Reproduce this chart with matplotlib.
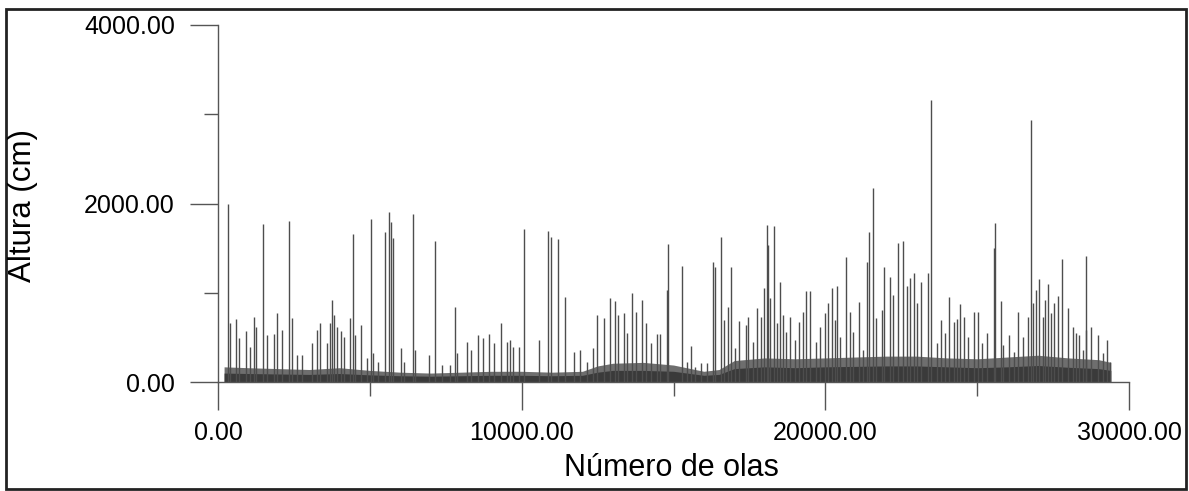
import matplotlib
matplotlib.use("Agg")
import matplotlib.pyplot as plt
from matplotlib.patches import Rectangle
from matplotlib.ticker import MultipleLocator, FormatStrFormatter

plt.rcParams['font.family'] = ['Liberation Sans', 'DejaVu Sans']

# picos individuales (numero de ola, altura en cm)
spike_x = [320, 385, 600, 690, 910, 1040, 1175, 1260, 1470, 1620, 1830, 1940,
           2110, 2330, 2435, 2610, 2780, 3100, 3250, 3360, 3580, 3690, 3740,
           3810, 3920, 4050, 4140, 4340, 4430, 4510, 4710, 4910, 5030, 5090,
           5270, 5490, 5640, 5690, 5750, 6010, 6120, 6410, 6500, 6960, 7145,
           7375, 7640, 7790, 7880, 8190, 8320, 8570, 8740, 8935, 9090, 9330,
           9505, 9615, 9725, 9910, 10090, 10570, 10880, 10965, 11195, 11425,
           11710, 11920, 12140, 12360, 12490, 12700, 12900, 13070, 13180,
           13360, 13470, 13620, 13750, 13950, 14080, 14260, 14445, 14565,
           14785, 14830, 15290, 15430, 15565, 15700, 15890, 16090, 16290,
           16375, 16560, 16660, 16800, 16900, 17020, 17165, 17375, 17450,
           17630, 17750, 17890, 17990, 18090, 18120, 18175, 18300, 18395,
           18505, 18615, 18700, 18835, 19000, 19120, 19250, 19350, 19490,
           19690, 19820, 19990, 20075, 20205, 20325, 20390, 20480, 20670,
           20810, 20920, 21120, 21250, 21360, 21445, 21580, 21670, 21850,
           21930, 22130, 22215, 22400, 22545, 22675, 22785, 22930, 23030,
           23160, 23370, 23490, 23665, 23820, 23940, 24070, 24235, 24320,
           24420, 24560, 24710, 24880, 25040, 25150, 25310, 25550, 25595,
           25770, 25860, 26055, 26220, 26350, 26495, 26660, 26770, 26825,
           26935, 27045, 27155, 27240, 27330, 27420, 27540, 27670, 27790,
           27995, 28140, 28250, 28360, 28470, 28580, 28600, 28745, 28985,
           29130, 29285, 29370]
spike_h = [1994, 657, 702, 493, 575, 395, 731, 619, 1766, 526, 538, 769,
           582, 1807, 713, 302, 302, 433, 582, 657, 433, 657, 918,
           750, 619, 575, 508, 713, 1658, 526, 638, 265, 1822, 321,
           227, 1684, 1900, 1796, 1610, 377, 227, 1878, 358, 302, 1579,
           190, 190, 837, 321, 451, 358, 526, 489, 538, 433, 664,
           451, 470, 395, 395, 1709, 470, 1695, 1628, 1602, 955,
           340, 358, 227, 377, 750, 713, 944, 911, 750,
           769, 545, 993, 788, 918, 657, 433, 538, 538,
           1030, 1542, 1302, 227, 407, 170, 208, 208, 1348,
           1284, 1628, 694, 837, 1284, 377, 687, 638, 731,
           451, 825, 731, 1049, 1759, 1534, 937, 1750, 657,
           1123, 750, 563, 731, 470, 675, 788, 1023, 1023,
           451, 619, 769, 888, 1049, 694, 1075, 508, 1403,
           788, 563, 899, 358, 1340, 1676, 2169, 713, 806,
           1284, 1179, 974, 1560, 1583, 1075, 1161, 1217, 881,
           1117, 1224, 3160, 433, 694, 545, 949, 675, 702,
           874, 725, 508, 788, 788, 433, 553, 1497, 1777,
           911, 414, 526, 340, 788, 508, 731, 2934, 881,
           1030, 1150, 731, 918, 1098, 769, 888, 963, 1374,
           825, 619, 545, 526, 358, 1411, 582, 619, 526,
           321, 470, 227]

# envolvente de la banda densa de olas pequenas (borde exterior y nucleo oscuro)
band_x = [200, 1000, 2000, 3000, 4000, 5000, 6000, 7000, 8000, 9000, 10000,
          11000, 12000, 12500, 13000, 14000, 15000, 16000, 16500, 17000,
          18000, 19000, 20000, 21000, 22000, 23000, 24000, 25000, 26000,
          27000, 28000, 29000, 29400]
band_top = [170, 160, 150, 140, 160, 130, 110, 100, 110, 120, 120,
            110, 120, 180, 210, 220, 190, 120, 140, 240,
            270, 260, 270, 280, 290, 290, 270, 260, 280,
            300, 270, 250, 220]
band_core = [100, 95, 90, 85, 95, 80, 70, 65, 70, 75, 75,
             70, 75, 110, 130, 130, 120, 75, 85, 150,
             170, 160, 170, 175, 180, 180, 170, 160, 170,
             185, 165, 150, 130]

fig = plt.figure(figsize=(11.89, 4.91), dpi=100)
ax = fig.add_axes([218/1189, 109/491, 911/1189, 357/491])

ax.fill_between(band_x, 0, band_top, color='#6e6e6e', lw=0)
ax.fill_between(band_x, 0, band_core, color='#3a3a3a', lw=0)
ax.vlines(spike_x, 0, spike_h, color='#4d4d4d', lw=1.0)

ax.set_xlim(0, 30000)
ax.set_ylim(0, 4000)
for s in ['top', 'right']:
    ax.spines[s].set_visible(False)
for s in ['left', 'bottom']:
    ax.spines[s].set_color('#555555')
    ax.spines[s].set_linewidth(1.0)

ax.xaxis.set_major_locator(MultipleLocator(10000))
ax.xaxis.set_minor_locator(MultipleLocator(5000))
ax.yaxis.set_major_locator(MultipleLocator(2000))
ax.yaxis.set_minor_locator(MultipleLocator(1000))
ax.xaxis.set_major_formatter(FormatStrFormatter('%.2f'))
ax.yaxis.set_major_formatter(FormatStrFormatter('%.2f'))
ax.tick_params(which='major', length=20, width=1, color='#555555')
ax.tick_params(which='minor', length=10, width=1, color='#555555')
ax.tick_params(axis='x', which='major', labelsize=18, pad=8)
ax.tick_params(axis='y', which='major', labelsize=18, pad=11)

fig.text(23/1189, 1-205/491, 'Altura (cm)', rotation=90, fontsize=22.5,
         ha='center', va='center')
fig.text(671/1189, 1-468/491, 'Número de olas', fontsize=22,
         ha='center', va='center')

fig.patches.append(Rectangle((6/1189, 2/491), 1180/1189, 480/491,
                             transform=fig.transFigure, fill=False,
                             lw=2, edgecolor='#222222'))

fig.savefig('out.png', dpi=100)
